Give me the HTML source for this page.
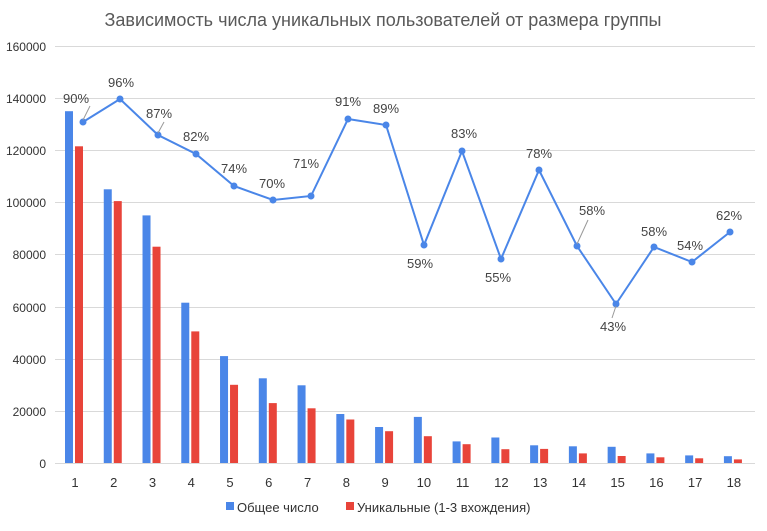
<!DOCTYPE html>
<html><head><meta charset="utf-8"><style>body{margin:0;background:#fff}</style></head>
<body>
<svg width="767" height="526" viewBox="0 0 767 526" xmlns="http://www.w3.org/2000/svg" font-family="Liberation Sans, sans-serif">
<rect width="767" height="526" fill="#fff"/>
<text x="383" y="26" text-anchor="middle" font-size="18" fill="#595959">Зависимость числа уникальных пользователей от размера группы</text>
<g stroke="#d9d9d9" stroke-width="1">
<line x1="55" x2="755" y1="46.5" y2="46.5"/><line x1="55" x2="755" y1="98.5" y2="98.5"/><line x1="55" x2="755" y1="150.5" y2="150.5"/><line x1="55" x2="755" y1="202.5" y2="202.5"/><line x1="55" x2="755" y1="254.5" y2="254.5"/><line x1="55" x2="755" y1="307.5" y2="307.5"/><line x1="55" x2="755" y1="359.5" y2="359.5"/><line x1="55" x2="755" y1="411.5" y2="411.5"/><line x1="55" x2="755" y1="463.5" y2="463.5"/>
</g>
<g font-size="12" fill="#333" text-anchor="end">
<text x="46" y="51">160000</text><text x="46" y="103">140000</text><text x="46" y="155">120000</text><text x="46" y="207">100000</text><text x="46" y="259">80000</text><text x="46" y="312">60000</text><text x="46" y="364">40000</text><text x="46" y="416">20000</text><text x="46" y="468">0</text>
</g>
<g fill="#4a86e8">
<rect x="65" y="111.2" width="8" height="351.8"/>
<rect x="103.76" y="189.3" width="8" height="273.7"/>
<rect x="142.52" y="215.4" width="8" height="247.6"/>
<rect x="181.28" y="302.7" width="8" height="160.3"/>
<rect x="220.04" y="356.1" width="8" height="106.9"/>
<rect x="258.8" y="378.3" width="8" height="84.7"/>
<rect x="297.56" y="385.3" width="8" height="77.7"/>
<rect x="336.32" y="414" width="8" height="49"/>
<rect x="375.08" y="427" width="8" height="36"/>
<rect x="413.84" y="416.9" width="8" height="46.1"/>
<rect x="452.6" y="441.4" width="8" height="21.6"/>
<rect x="491.36" y="437.5" width="8" height="25.5"/>
<rect x="530.12" y="445.3" width="8" height="17.7"/>
<rect x="568.88" y="446.3" width="8" height="16.7"/>
<rect x="607.64" y="446.8" width="8" height="16.2"/>
<rect x="646.4" y="453.4" width="8" height="9.6"/>
<rect x="685.16" y="455.4" width="8" height="7.6"/>
<rect x="723.92" y="456.2" width="8" height="6.8"/>
</g>
<g fill="#e8443a">
<rect x="75" y="146.3" width="8" height="316.7"/>
<rect x="113.76" y="201.1" width="8" height="261.9"/>
<rect x="152.52" y="246.7" width="8" height="216.3"/>
<rect x="191.28" y="331.4" width="8" height="131.6"/>
<rect x="230.04" y="384.8" width="8" height="78.2"/>
<rect x="268.8" y="403.1" width="8" height="59.9"/>
<rect x="307.56" y="408.3" width="8" height="54.7"/>
<rect x="346.32" y="419.5" width="8" height="43.5"/>
<rect x="385.08" y="431.2" width="8" height="31.8"/>
<rect x="423.84" y="436.2" width="8" height="26.8"/>
<rect x="462.6" y="444.2" width="8" height="18.8"/>
<rect x="501.36" y="449.2" width="8" height="13.8"/>
<rect x="540.12" y="448.9" width="8" height="14.1"/>
<rect x="578.88" y="453.4" width="8" height="9.6"/>
<rect x="617.64" y="456" width="8" height="7"/>
<rect x="656.4" y="457.3" width="8" height="5.7"/>
<rect x="695.16" y="458.3" width="8" height="4.7"/>
<rect x="733.92" y="459.4" width="8" height="3.6"/>
</g>
<g font-size="13" fill="#333" text-anchor="middle">
<text x="75" y="487">1</text><text x="113.76" y="487">2</text><text x="152.52" y="487">3</text><text x="191.28" y="487">4</text><text x="230.04" y="487">5</text><text x="268.8" y="487">6</text><text x="307.56" y="487">7</text><text x="346.32" y="487">8</text><text x="385.08" y="487">9</text><text x="423.84" y="487">10</text><text x="462.6" y="487">11</text><text x="501.36" y="487">12</text><text x="540.12" y="487">13</text><text x="578.88" y="487">14</text><text x="617.64" y="487">15</text><text x="656.4" y="487">16</text><text x="695.16" y="487">17</text><text x="733.92" y="487">18</text>
</g>
<polyline fill="none" stroke="#4a86e8" stroke-width="2" points="83,122 120,99 158,135 196,154 234,186 273,200 311,196 348,119 386,125 424,245 462,151 501,259 539,170 577,246 616,304 654,247 692,262 730,232"/>
<g fill="#4a86e8">
<circle cx="83" cy="122" r="3.5"/><circle cx="120" cy="99" r="3.5"/><circle cx="158" cy="135" r="3.5"/><circle cx="196" cy="154" r="3.5"/><circle cx="234" cy="186" r="3.5"/><circle cx="273" cy="200" r="3.5"/><circle cx="311" cy="196" r="3.5"/><circle cx="348" cy="119" r="3.5"/><circle cx="386" cy="125" r="3.5"/><circle cx="424" cy="245" r="3.5"/><circle cx="462" cy="151" r="3.5"/><circle cx="501" cy="259" r="3.5"/><circle cx="539" cy="170" r="3.5"/><circle cx="577" cy="246" r="3.5"/><circle cx="616" cy="304" r="3.5"/><circle cx="654" cy="247" r="3.5"/><circle cx="692" cy="262" r="3.5"/><circle cx="730" cy="232" r="3.5"/>
</g>
<g stroke="#999" stroke-width="1">
<line x1="83" y1="120" x2="90" y2="106"/><line x1="158" y1="133" x2="164" y2="122"/><line x1="577" y1="244" x2="588" y2="220"/><line x1="616" y1="306" x2="612" y2="318"/>
</g>
<g font-size="13" fill="#444" text-anchor="middle">
<text x="76" y="103">90%</text><text x="121" y="87">96%</text><text x="159" y="118">87%</text><text x="196" y="141">82%</text><text x="234" y="173">74%</text><text x="272" y="188">70%</text><text x="306" y="168">71%</text><text x="348" y="106">91%</text><text x="386" y="113">89%</text><text x="420" y="268">59%</text><text x="464" y="138">83%</text><text x="498" y="282">55%</text><text x="539" y="158">78%</text><text x="592" y="215">58%</text><text x="613" y="331">43%</text><text x="654" y="236">58%</text><text x="690" y="250">54%</text><text x="729" y="220">62%</text>
</g>
<rect x="226" y="502" width="8" height="8" fill="#4a86e8"/><text x="237" y="512" font-size="13" fill="#333">Общее число</text>
<rect x="346" y="502" width="8" height="8" fill="#e8443a"/><text x="357" y="512" font-size="13" fill="#333">Уникальные (1-3 вхождения)</text>
</svg>
</body></html>
